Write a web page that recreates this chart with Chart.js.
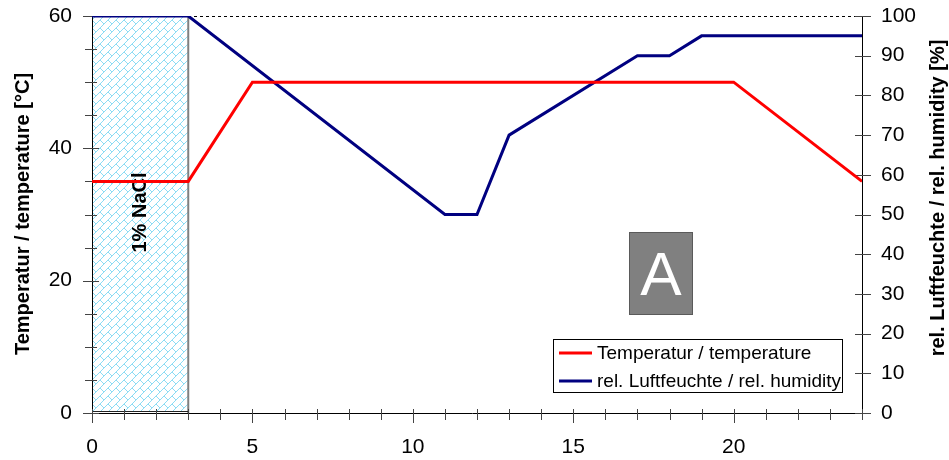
<!DOCTYPE html>
<html>
<head>
<meta charset="utf-8">
<script src="https://cdn.jsdelivr.net/npm/chart.js@4/dist/chart.umd.min.js"></script>
<style>
  html, body { margin: 0; padding: 0; background: #fff; }
  #wrap { width: 949px; height: 460px; }
</style>
</head>
<body>
<div id="wrap"><canvas id="c" width="949" height="460"></canvas></div>
<script>
// Climate cycle: temperature and relative humidity over one 24 h cycle
const tempHours   = [0, 3, 5, 20, 24];
const temperature = [35, 35, 50, 50, 35];
const humHours    = [0, 3, 11, 12, 13, 17, 18, 19, 24];
const humidity    = [100, 100, 50, 50, 70, 90, 90, 95, 95];

// Salt spray phase (hours) and its label
const saltPhase = [0, 3];
const saltLabel = '1% NaCl';

// Tick labels
const xLabels    = [0, 5, 10, 15, 20];
const tempLabels = [0, 20, 40, 60];
const humLabels  = [0, 10, 20, 30, 40, 50, 60, 70, 80, 90, 100];

const seriesNames = ['Temperatur / temperature', 'rel. Luftfeuchte / rel. humidity'];
const tempTitle = 'Temperatur / temperature [°C]';
const humTitle  = 'rel. Luftfeuchte / rel. humidity [%]';
const panelLetter = 'A';

const FONT = '"Liberation Sans", Arial, sans-serif';
const RED = '#ff0000';
const NAVY = '#000080';

function toPoints(xs, ys) { return xs.map((x, i) => ({ x: x, y: ys[i] })); }

// Diagonal brick hatch used for the salt spray band
function makeHatch(ctx) {
  const s = 16;
  const c = document.createElement('canvas');
  c.width = s; c.height = s;
  const g = c.getContext('2d');
  g.fillStyle = '#ffffff';
  g.fillRect(0, 0, s, s);
  g.strokeStyle = '#8cdcf4';
  g.lineWidth = 1;
  const segs = [
    [0, 8, 8, 0], [0, 16, 16, 0], [8, 16, 16, 8],
    [4, 4, 8, 8], [12, 12, 16, 16],
    [12, 4, 16, 8], [4, 12, 8, 16]
  ];
  g.beginPath();
  for (const [x1, y1, x2, y2] of segs) {
    for (const dx of [-s, 0, s]) for (const dy of [-s, 0, s]) {
      g.moveTo(x1 + dx, y1 + dy);
      g.lineTo(x2 + dx, y2 + dy);
    }
  }
  g.stroke();
  return ctx.createPattern(c, 'repeat');
}

const frame = {
  id: 'frame',
  beforeDatasetsDraw(chart) {
    const { ctx, chartArea: a, scales } = chart;
    const x = scales.x, yT = scales.yT, yH = scales.yH;
    ctx.save();

    // salt spray band
    const x0 = x.getPixelForValue(saltPhase[0]);
    const x1 = x.getPixelForValue(saltPhase[1]);
    ctx.fillStyle = makeHatch(ctx);
    ctx.fillRect(x0, a.top, x1 - x0, a.bottom - a.top - 2);
    ctx.strokeStyle = '#808080';
    ctx.lineWidth = 2;
    ctx.beginPath();
    ctx.moveTo(x1, a.top);
    ctx.lineTo(x1, a.bottom);
    ctx.stroke();
    ctx.strokeStyle = '#222';
    ctx.lineWidth = 1;
    ctx.beginPath();
    ctx.moveTo(x0, a.bottom - 1.5);
    ctx.lineTo(x1, a.bottom - 1.5);
    ctx.stroke();

    // band label, rotated, centred in the band
    ctx.save();
    ctx.translate((x0 + x1) / 2, (a.top + a.bottom) / 2 - 2);
    ctx.rotate(-Math.PI / 2);
    ctx.fillStyle = '#000';
    ctx.font = 'bold 20px ' + FONT;
    ctx.textAlign = 'center';
    ctx.textBaseline = 'middle';
    ctx.fillText(saltLabel, 0, 0);
    ctx.restore();

    // dashed top frame
    ctx.strokeStyle = '#000';
    ctx.lineWidth = 1;
    ctx.setLineDash([3, 3]);
    ctx.beginPath();
    ctx.moveTo(a.left, a.top + 0.5);
    ctx.lineTo(a.right, a.top + 0.5);
    ctx.stroke();
    ctx.setLineDash([]);

    // axis lines
    ctx.strokeStyle = '#000';
    ctx.lineWidth = 1;
    ctx.beginPath();
    ctx.moveTo(a.left + 0.5, a.top);
    ctx.lineTo(a.left + 0.5, a.bottom);
    ctx.moveTo(a.right + 0.5, a.top);
    ctx.lineTo(a.right + 0.5, a.bottom + 6);
    ctx.moveTo(a.left - 9, a.bottom + 0.5);
    ctx.lineTo(a.right, a.bottom + 0.5);
    ctx.stroke();

    // tick marks
    ctx.strokeStyle = '#444';
    ctx.beginPath();
    for (let v = 0; v <= 60; v += 5) {
      const py = Math.round(yT.getPixelForValue(v)) + 0.5;
      const major = v % 20 === 0;
      ctx.moveTo(a.left - (major ? 9 : 7), py);
      ctx.lineTo(a.left + (major ? 7 : 5), py);
    }
    for (let v = 0; v <= 100; v += 10) {
      const py = Math.round(yH.getPixelForValue(v)) + 0.5;
      ctx.moveTo(a.right - 7, py);
      ctx.lineTo(a.right + 9, py);
    }
    for (let v = 0; v <= 24; v += 1) {
      const px = Math.round(x.getPixelForValue(v)) + 0.5;
      const major = v % 5 === 0;
      ctx.moveTo(px, a.bottom - 4);
      ctx.lineTo(px, a.bottom + (major ? 10 : 7));
    }
    ctx.stroke();
    ctx.restore();
  },
  afterDraw(chart) {
    const { ctx } = chart;
    ctx.save();

    // axis titles
    ctx.fillStyle = '#000';
    ctx.font = 'bold 20px ' + FONT;
    ctx.textAlign = 'center';
    ctx.textBaseline = 'middle';
    ctx.save();
    ctx.translate(23, 214);
    ctx.rotate(-Math.PI / 2);
    ctx.fillText(tempTitle, 0, 0);
    ctx.restore();
    ctx.save();
    ctx.translate(938, 198);
    ctx.rotate(-Math.PI / 2);
    ctx.fillText(humTitle, 0, 0);
    ctx.restore();

    // panel letter box
    ctx.fillStyle = '#808080';
    ctx.fillRect(629, 232, 64, 83);
    ctx.strokeStyle = '#5a5a5a';
    ctx.lineWidth = 1;
    ctx.strokeRect(629.5, 232.5, 63, 82);
    ctx.fillStyle = '#fff';
    ctx.font = '62px ' + FONT;
    ctx.textAlign = 'center';
    ctx.textBaseline = 'alphabetic';
    ctx.fillText(panelLetter, 661, 295);

    // legend
    ctx.fillStyle = '#fff';
    ctx.fillRect(553, 339, 290, 54);
    ctx.strokeStyle = '#000';
    ctx.strokeRect(553.5, 339.5, 289, 53);
    const rows = [[RED, 353], [NAVY, 381]];
    ctx.font = '19px ' + FONT;
    ctx.textAlign = 'left';
    ctx.textBaseline = 'middle';
    rows.forEach(([col, y], i) => {
      ctx.strokeStyle = col;
      ctx.lineWidth = 3;
      ctx.beginPath();
      ctx.moveTo(559, y);
      ctx.lineTo(592, y);
      ctx.stroke();
      ctx.fillStyle = '#000';
      ctx.fillText(seriesNames[i], 597, y + 1);
    });
    ctx.restore();
  }
};

const tickFont = { family: FONT, size: 21 };

// Fixed axis band sizes; label overhang is not allowed to shrink the plot
function fitVertical(width) {
  return s => { s.width = width; s.paddingTop = 0; s.paddingBottom = 0; };
}

new Chart(document.getElementById('c'), {
  type: 'line',
  data: {
    datasets: [
      {
        label: seriesNames[0],
        data: toPoints(tempHours, temperature),
        yAxisID: 'yT',
        borderColor: RED,
        borderWidth: 3,
        pointRadius: 0,
        tension: 0,
        fill: false
      },
      {
        label: seriesNames[1],
        data: toPoints(humHours, humidity),
        yAxisID: 'yH',
        borderColor: NAVY,
        borderWidth: 3,
        pointRadius: 0,
        tension: 0,
        fill: false
      }
    ]
  },
  options: {
    responsive: false,
    animation: false,
    devicePixelRatio: 1,
    layout: { padding: { top: 16, left: 0, right: 0, bottom: 0 } },
    plugins: { legend: { display: false }, tooltip: { enabled: false } },
    scales: {
      x: {
        type: 'linear',
        position: 'bottom',
        min: 0, max: 24,
        grid: { display: false, drawTicks: false },
        border: { display: false },
        ticks: {
          stepSize: 1,
          autoSkip: false,
          maxRotation: 0,
          padding: 22,
          color: '#000',
          font: tickFont,
          callback: v => xLabels.includes(v) ? String(v) : ''
        },
        afterFit: s => { s.height = 47; s.paddingLeft = 0; s.paddingRight = 0; }
      },
      yT: {
        type: 'linear',
        position: 'left',
        min: 0, max: 60,
        grid: { display: false, drawTicks: false },
        border: { display: false },
        ticks: {
          stepSize: 20,
          padding: 20,
          color: '#000',
          font: tickFont,
          callback: v => tempLabels.includes(v) ? String(v) : ''
        },
        afterFit: fitVertical(92)
      },
      yH: {
        type: 'linear',
        position: 'right',
        min: 0, max: 100,
        grid: { display: false, drawTicks: false },
        border: { display: false },
        ticks: {
          stepSize: 10,
          padding: 19,
          color: '#000',
          font: tickFont,
          callback: v => humLabels.includes(v) ? String(v) : ''
        },
        afterFit: fitVertical(87)
      }
    }
  },
  plugins: [frame]
});
</script>
</body>
</html>
